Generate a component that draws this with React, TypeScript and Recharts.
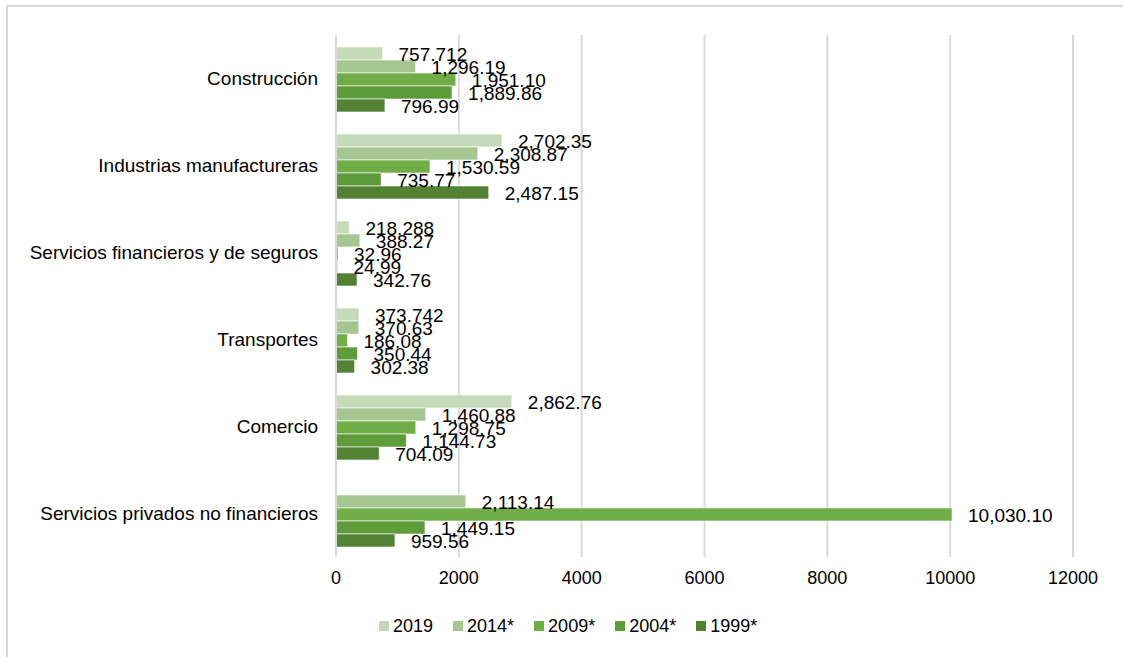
import { BarChart, Bar, XAxis, YAxis, CartesianGrid, LabelList } from 'recharts';

const categories = [
  'Construcción',
  'Industrias manufactureras',
  'Servicios financieros y de seguros',
  'Transportes',
  'Comercio',
  'Servicios privados no financieros',
];

const seriesNames = ['2019', '2014*', '2009*', '2004*', '1999*'];
const seriesColors = ['#c5dab9', '#a5c690', '#70ad47', '#5e9b3b', '#548235'];

const values2019 = [757.712, 2702.35, 218.288, 373.742, 2862.76, null];
const values2014 = [1296.19, 2308.87, 388.27, 370.63, 1460.88, 2113.14];
const values2009 = [1951.1, 1530.59, 32.96, 186.08, 1298.75, 10030.1];
const values2004 = [1889.86, 735.77, 24.99, 350.44, 1144.73, 1449.15];
const values1999 = [796.99, 2487.15, 342.76, 302.38, 704.09, 959.56];

const labels2019 = ['757.712', '2,702.35', '218.288', '373.742', '2,862.76', ''];
const labels2014 = ['1,296.19', '2,308.87', '388.27', '370.63', '1,460.88', '2,113.14'];
const labels2009 = ['1,951.10', '1,530.59', '32.96', '186.08', '1,298.75', '10,030.10'];
const labels2004 = ['1,889.86', '735.77', '24.99', '350.44', '1,144.73', '1,449.15'];
const labels1999 = ['796.99', '2,487.15', '342.76', '302.38', '704.09', '959.56'];

const xTicks = [0, 2000, 4000, 6000, 8000, 10000, 12000];

const seriesValues = [values2019, values2014, values2009, values2004, values1999];
const seriesLabels = [labels2019, labels2014, labels2009, labels2004, labels1999];

const data = categories.map((name, i) => {
  const row: Record<string, string | number | null> = { name };
  seriesNames.forEach((s, j) => {
    row[s] = seriesValues[j][i];
  });
  return row;
});

const FONT = '"Liberation Sans", Arial, sans-serif';

const makeLabel = (labels: string[]) => (props: any) => {
  const { x, y, width, height, index } = props;
  const text = labels[index];
  if (!text) return null;
  return (
    <text
      x={Number(x) + Number(width) + 16}
      y={Number(y) + Number(height) / 2 + 1}
      fontSize={19}
      fontFamily={FONT}
      fill="#000"
      dominantBaseline="central"
    >
      {text}
    </text>
  );
};

export default function App() {
  return (
    <div style={{ position: 'absolute', left: 0, top: 0, width: 1123, height: 657, background: '#fff', overflow: 'hidden' }}>
      <div
        style={{
          position: 'absolute',
          left: 6,
          top: 5,
          width: 1140,
          height: 680,
          border: '2px solid #d9d9d9',
          boxSizing: 'border-box',
        }}
      />
      <div style={{ position: 'absolute', left: 0, top: 0 }}>
        <BarChart
          width={1123}
          height={657}
          data={data}
          layout="vertical"
          margin={{ top: 35, right: 50, left: 0, bottom: 70 }}
          barCategoryGap={12}
          barGap={0}
        >
          <CartesianGrid horizontal={false} stroke="#d9d9d9" strokeWidth={2} />
          <XAxis
            type="number"
            domain={[0, 12000]}
            ticks={xTicks}
            height={30}
            axisLine={false}
            tickLine={false}
            tickMargin={8}
            tick={{ fontSize: 18, fontFamily: FONT, fill: '#000' }}
          />
          <YAxis
            type="category"
            dataKey="name"
            width={336}
            axisLine={{ stroke: '#d9d9d9', strokeWidth: 2 }}
            tickLine={false}
            tickMargin={12}
            tick={{ fontSize: 19, fontFamily: FONT, fill: '#000' }}
          />
          {seriesNames.map((s, j) => (
            <Bar key={s} dataKey={s} fill={seriesColors[j]} stroke="#fff" strokeWidth={0.6} isAnimationActive={false}>
              <LabelList dataKey={s} content={makeLabel(seriesLabels[j])} />
            </Bar>
          ))}
        </BarChart>
      </div>
      <div
        style={{
          position: 'absolute',
          left: 379,
          top: 615,
          display: 'flex',
          gap: 20,
          fontFamily: FONT,
          fontSize: 18,
          color: '#000',
        }}
      >
        {seriesNames.map((s, j) => (
          <div key={s} style={{ display: 'flex', alignItems: 'center', height: 22 }}>
            <span style={{ width: 10, height: 10, background: seriesColors[j], marginRight: 4, display: 'inline-block' }} />
            <span>{s}</span>
          </div>
        ))}
      </div>
    </div>
  );
}
